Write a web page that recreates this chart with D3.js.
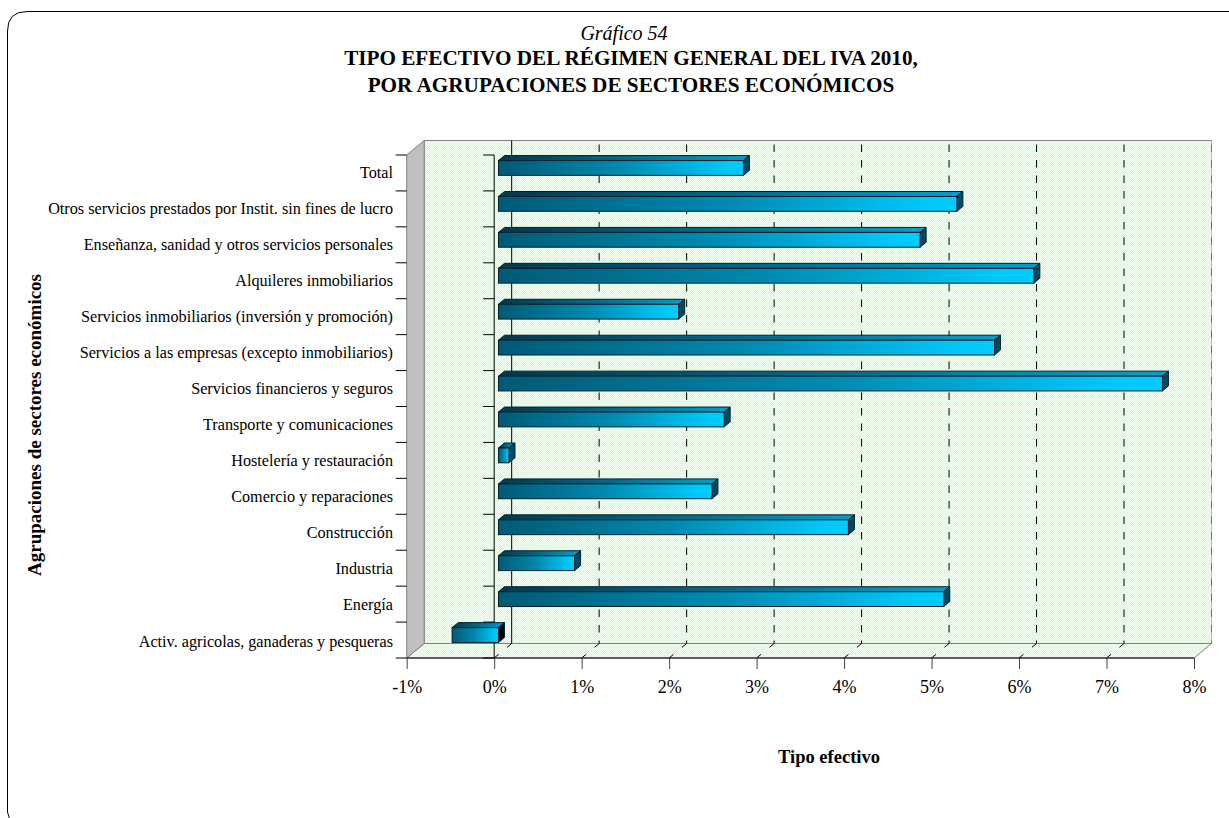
<!DOCTYPE html>
<html><head><meta charset="utf-8">
<script src="https://cdnjs.cloudflare.com/ajax/libs/d3/7.8.5/d3.min.js"></script>
<style>html,body{margin:0;padding:0;background:#fff;overflow:hidden}svg{display:block}text{font-family:"Liberation Serif",serif;fill:#000}</style>
</head><body>
<svg id="c" width="1229" height="818"></svg>
<script>
const categories = ["Total","Otros servicios prestados por Instit. sin fines de lucro","Enseñanza, sanidad y otros servicios personales","Alquileres inmobiliarios","Servicios inmobiliarios (inversión y promoción)","Servicios a las empresas (excepto inmobiliarios)","Servicios financieros y seguros","Transporte y comunicaciones","Hostelería y restauración","Comercio y reparaciones","Construcción","Industria","Energía","Activ. agricolas, ganaderas y pesqueras"];
const values = [2.80,5.24,4.82,6.12,2.06,5.67,7.59,2.58,0.12,2.44,4.00,0.87,5.09,-0.53];
const xTicks = [-1,0,1,2,3,4,5,6,7,8];
const titleLines = ["TIPO EFECTIVO DEL RÉGIMEN GENERAL DEL IVA 2010,","POR AGRUPACIONES DE SECTORES ECONÓMICOS"];

const svg = d3.select("#c");
const L=406.7,R=1194,T=155,B=658,dx=17.5,dy=14.5;
const x = d3.scaleLinear().domain([-1,8]).range([L,R]);
const y = d3.scaleBand().domain(categories).range([T,B]).padding(0);
const yLabel = d3.scalePoint().domain(categories).range([178,646.5]);
const defs = svg.append("defs");
const pat = defs.append("pattern").attr("id","dith").attr("width",2).attr("height",2).attr("patternUnits","userSpaceOnUse");
pat.append("rect").attr("width",2).attr("height",2).attr("fill","#ccffcc");
pat.append("rect").attr("width",1).attr("height",1).attr("fill","#f0fff0");
pat.append("rect").attr("x",1).attr("y",1).attr("width",1).attr("height",1).attr("fill","#f0fff0");
function grad(id,stops){const g=defs.append("linearGradient").attr("id",id).attr("x1",0).attr("x2",1).attr("y1",0).attr("y2",0);
 stops.forEach(s=>g.append("stop").attr("offset",s[0]).attr("stop-color",s[1]));}
grad("front",[[0,"#005a75"],[0.5,"#008ab0"],[0.93,"#00c8fa"],[1,"#00ccff"]]);
grad("top",[[0,"#003a4c"],[0.5,"#006a8a"],[1,"#00a0cc"]]);

// frame
svg.append("path").attr("d","M11,822 Q9,818 7.5,812 L7.5,31 Q7.5,11.5 27,11.5 L1250,11.5").attr("fill","none").attr("stroke","#000").attr("stroke-width",1);

// titles
svg.append("text").attr("x",624).attr("y",40).attr("text-anchor","middle").attr("font-size",20).attr("font-style","italic").text("Gráfico 54");
svg.selectAll(".tl").data(titleLines).enter().append("text").attr("x",631).attr("y",(d,i)=>65+i*26.5).attr("text-anchor","middle").attr("font-size",21.2).attr("font-weight","bold").text(d=>d);

// walls
const poly=(p,f,s)=>svg.append("polygon").attr("points",p.map(q=>q.join(",")).join(" ")).attr("fill",f).attr("stroke",s||"none");
poly([[L+dx,T-dy],[R+dx,T-dy],[R+dx,B-dy],[L+dx,B-dy]],"url(#dith)","#808080");
poly([[L,B],[L+dx,B-dy],[R+dx,B-dy],[R,B]],"url(#dith)","#808080");
poly([[L,T],[L+dx,T-dy],[L+dx,B-dy],[L,B]],"#c0c0c0","#808080");

// grid
xTicks.slice(1).forEach(t=>{
  const gx=x(t)+dx, zero=t===0, last=t===8;
  if(last) svg.append("line").attr("x1",gx).attr("x2",gx).attr("y1",T-dy).attr("y2",B-dy).attr("stroke","#bdbdbd");
  svg.append("line").attr("x1",gx).attr("x2",gx).attr("y1",T-dy).attr("y2",B-dy)
    .attr("stroke",last?"#707070":"#000").attr("stroke-dasharray",zero?null:"7.5,8").attr("stroke-dashoffset",zero?null:11.5);
  if(!last) svg.append("line").attr("x1",gx).attr("y1",B-dy).attr("x2",x(t)).attr("y2",B)
    .attr("stroke","#000").attr("stroke-dasharray","6,11,6");
});

// y ticks on wall and on zero axis
const yEdges=d3.range(categories.length+1).map(i=>T+i*y.step());
yEdges.forEach(v=>{
  svg.append("line").attr("x1",L-11).attr("x2",L).attr("y1",v).attr("y2",v).attr("stroke","#000");
  svg.append("line").attr("x1",x(0)-11).attr("x2",x(0)).attr("y1",v).attr("y2",v).attr("stroke","#000");
});
svg.append("line").attr("x1",x(0)).attr("x2",x(0)).attr("y1",T).attr("y2",B).attr("stroke","#000");

// x axis
const ax=svg.append("g").attr("transform",`translate(0,${B})`).call(d3.axisBottom(x).tickValues(xTicks).tickSize(11).tickPadding(11).tickFormat(d=>d+"%"));
ax.selectAll("text").attr("font-size",18).style("font-family",'"Liberation Serif",serif');
ax.select(".domain").attr("stroke","#000").attr("d",`M${L},0H${R}`);
ax.selectAll("line").attr("stroke","#444");

// category labels
svg.selectAll(".cat").data(categories).enter().append("text").attr("x",393).attr("y",d=>yLabel(d)).attr("text-anchor","end").attr("font-size",16.2).text(d=>d);

// bars
const ox=4.3,oy=-5,h=14.8,bdx=6,bdy=5;
const cats=categories.map((c,i)=>({c,v:values[i]}));
const bars=svg.selectAll(".bar").data(cats).enter().append("g");
bars.each(function(d){
  const g=d3.select(this);
  const xa=x(Math.min(d.v,0))+ox, xb=x(Math.max(d.v,0))+ox;
  const yt=y(d.c)+y.bandwidth()/2+oy-h/2, yb=yt+h;
  const st="#00202c";
  g.append("polygon").attr("points",`${xa},${yt} ${xa+bdx},${yt-bdy} ${xb+bdx},${yt-bdy} ${xb},${yt}`).attr("fill","url(#top)").attr("stroke",st);
  g.append("polygon").attr("points",`${xb},${yt} ${xb+bdx},${yt-bdy} ${xb+bdx},${yb-bdy} ${xb},${yb}`).attr("fill",d.v<0?"#000":"#004a60").attr("stroke",st);
  g.append("rect").attr("x",xa).attr("y",yt).attr("width",xb-xa).attr("height",h).attr("fill","url(#front)").attr("stroke",st);
});

// axis titles
svg.append("text").attr("x",829).attr("y",763).attr("text-anchor","middle").attr("font-size",18.5).attr("font-weight","bold").text("Tipo efectivo");
svg.append("text").attr("transform","translate(41,425) rotate(-90)").attr("text-anchor","middle").attr("font-size",19).attr("font-weight","bold").text("Agrupaciones de sectores económicos");
</script>
</body></html>
